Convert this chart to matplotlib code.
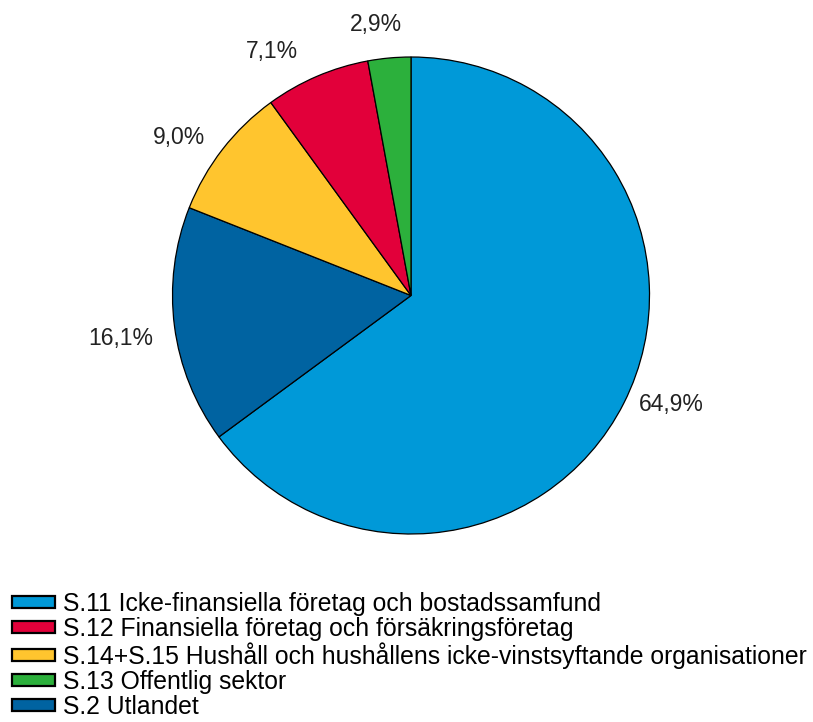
import matplotlib
matplotlib.use("Agg")
import matplotlib.pyplot as plt
import numpy as np

# ---- data ----
categories = [
    "S.11 Icke-finansiella företag och bostadssamfund",
    "S.2 Utlandet",
    "S.14+S.15 Hushåll och hushållens icke-vinstsyftande organisationer",
    "S.12 Finansiella företag och försäkringsföretag",
    "S.13 Offentlig sektor",
]
values = [64.9, 16.1, 9.0, 7.1, 2.9]
value_labels = ["64,9%", "16,1%", "9,0%", "7,1%", "2,9%"]
legend_order = [0, 3, 2, 4, 1]

# ---- style ----
colors = ["#0099D8", "#0063A1", "#FFC52E", "#E2003A", "#2CB03C"]
label_dist = [1.183, 1.231, 1.179, 1.180, 1.147]
label_nudge = [4.2, 1.0, 3.5, 6.5, 2.2]

plt.rcParams["font.family"] = ["Liberation Sans", "DejaVu Sans"]

W, H = 813, 722
fig = plt.figure(figsize=(W / 100, H / 100), dpi=100)

cx, cy, R = 411, 295.5, 238.5
lim = 1.3
side = 2 * lim * R
ax = fig.add_axes([(cx - side / 2) / W, (H - cy - side / 2) / H, side / W, side / H])

wedges, _ = ax.pie(values, colors=colors, startangle=90, counterclock=False,
                   wedgeprops=dict(edgecolor="black", linewidth=0.9))
ax.set_xlim(-lim, lim)
ax.set_ylim(-lim, lim)
ax.set_aspect("equal")
ax.axis("off")

for w, lab, d, nd in zip(wedges, value_labels, label_dist, label_nudge):
    ang = np.deg2rad((w.theta1 + w.theta2) / 2 + nd)
    ax.text(d * np.cos(ang), d * np.sin(ang), lab, ha="center", va="center",
            fontsize=16.5, color="#222222")

handles = [wedges[i] for i in legend_order]
labels = [categories[i] for i in legend_order]
leg = fig.legend(handles, labels, loc="upper left",
                 bbox_to_anchor=(12 / W, 1 - 592 / H), frameon=False,
                 fontsize=17.8, borderpad=0, borderaxespad=0,
                 handlelength=1.74, handleheight=0.40, handletextpad=0.32,
                 labelspacing=0.04)
for h in leg.legend_handles:
    h.set_linewidth(1.6)

fig.savefig("out.png", dpi=100)
